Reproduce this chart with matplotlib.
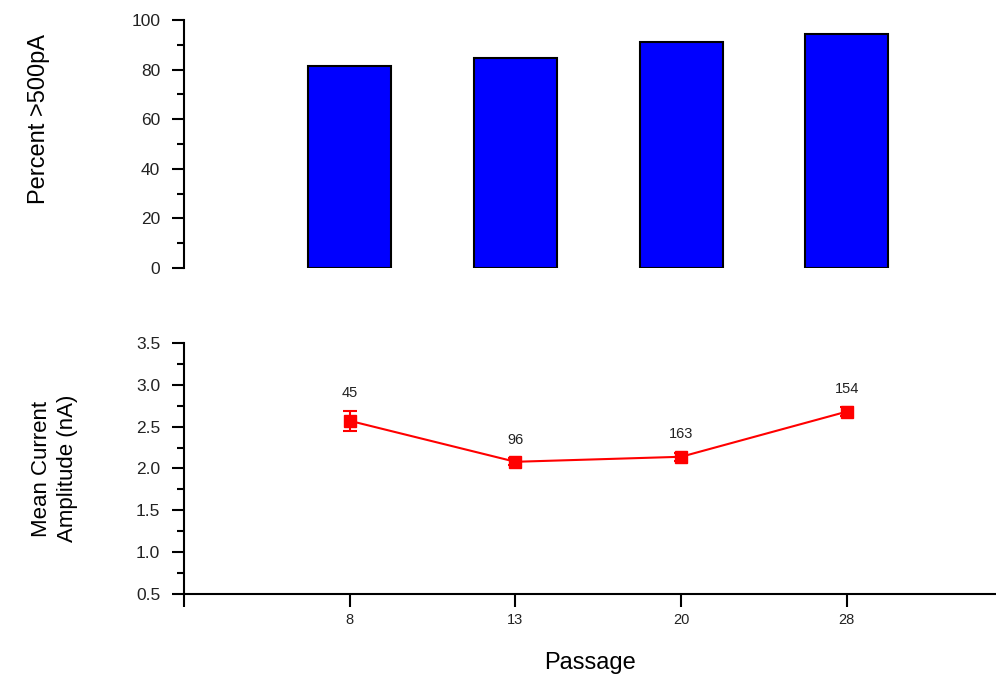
import matplotlib
matplotlib.use("Agg")
import matplotlib.pyplot as plt
import numpy as np
from matplotlib.ticker import MultipleLocator

plt.rcParams['font.family'] = ['Liberation Sans', 'DejaVu Sans']

# data
passages = ["8", "13", "20", "28"]
percent_above_500pA = [81.5, 84.7, 91.0, 94.3]
mean_amplitude = [2.57, 2.08, 2.14, 2.68]
amplitude_err = [0.12, 0.04, 0.05, 0.05]
n_cells = ["45", "96", "163", "154"]

x = np.arange(1, len(passages) + 1)

fig = plt.figure(figsize=(9.96, 6.8), dpi=100)

# top panel: bars
ax1 = fig.add_axes([0.1847, 0.6059, 0.8153, 0.3647])
ax1.bar(x, percent_above_500pA, width=0.5, color='#0000ff', edgecolor='black', linewidth=1.5)
ax1.set_xlim(0, 4.9)
ax1.set_ylim(0, 100)
ax1.yaxis.set_major_locator(MultipleLocator(20))
ax1.yaxis.set_minor_locator(MultipleLocator(10))
for s in ['top', 'right', 'bottom']:
    ax1.spines[s].set_visible(False)
ax1.spines['left'].set_linewidth(1.5)
ax1.set_xticks([])
ax1.tick_params(axis='y', which='major', length=9, width=1.5, labelsize=12.5, labelcolor='#222222', pad=8)
ax1.tick_params(axis='y', which='minor', length=5, width=1.5)
ax1.set_ylabel("Percent >500pA", fontsize=17)
ax1.yaxis.set_label_coords(-0.165, 0.6)

# bottom panel: mean amplitude
ax2 = fig.add_axes([0.1847, 0.1265, 0.8153, 0.3691])
ax2.errorbar(x, mean_amplitude, yerr=amplitude_err, color='red', marker='s', markersize=8,
             linewidth=1.5, capsize=5, capthick=1.5, elinewidth=1.5)
for xi, yi, ei, n in zip(x, mean_amplitude, amplitude_err, n_cells):
    ax2.annotate(n, xy=(xi, yi + ei), xytext=(0, 8), textcoords='offset points',
                 ha='center', va='bottom', fontsize=10.5, color='#222222')
ax2.set_xlim(0, 4.9)
ax2.set_ylim(0.5, 3.5)
ax2.yaxis.set_minor_locator(MultipleLocator(0.25))
ax2.set_yticks(np.arange(0.5, 3.51, 0.5))
ax2.set_yticklabels([f"{v:.1f}" for v in np.arange(0.5, 3.51, 0.5)])
ax2.set_xticks(np.concatenate([[0], x]))
ax2.set_xticklabels([""] + passages)
for s in ['top', 'right']:
    ax2.spines[s].set_visible(False)
ax2.spines['left'].set_linewidth(1.5)
ax2.spines['bottom'].set_linewidth(1.5)
ax2.tick_params(axis='y', which='major', length=9, width=1.5, labelsize=12.5, labelcolor='#222222', pad=8)
ax2.tick_params(axis='y', which='minor', length=5, width=1.5)
ax2.tick_params(axis='x', which='major', length=9, width=1.5, labelsize=10.5, labelcolor='#222222', pad=5)
ax2.set_ylabel("Mean Current\nAmplitude (nA)", fontsize=16, labelpad=42, linespacing=1.3)
ax2.set_xlabel("Passage", fontsize=17, labelpad=18)

fig.savefig("out.png", dpi=100)
